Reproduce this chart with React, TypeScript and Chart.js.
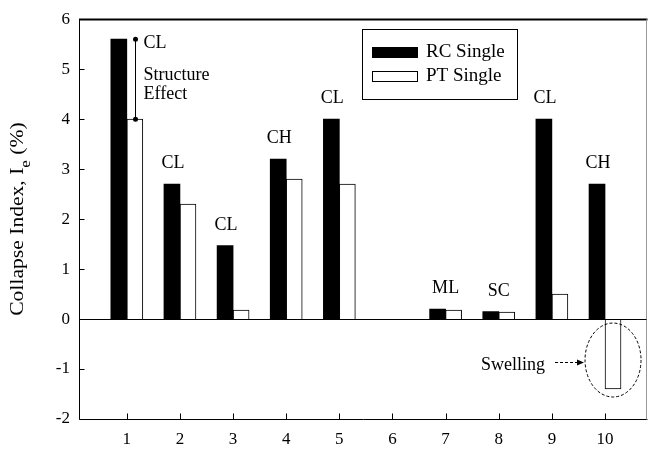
import React, { useEffect, useRef } from "react";
import { Chart, registerables } from "chart.js";

Chart.register(...registerables);

// Site numbers along the x axis
const SITES = [1, 2, 3, 4, 5, 6, 7, 8, 9, 10];
// Collapse index (%) for each site; null where no test was run
const RC_SINGLE: (number | null)[] = [5.6, 2.7, 1.47, 3.2, 4.0, null, 0.2, 0.15, 4.0, 2.7];
const PT_SINGLE: (number | null)[] = [4.0, 2.3, 0.18, 2.8, 2.7, null, 0.18, 0.14, 0.5, -1.4];
// Soil classification shown above each group
const SOIL_TYPES = ["CL", "CL", "CL", "CH", "CL", "", "ML", "SC", "CL", "CH"];
const SERIES_NAMES = ["RC Single", "PT Single"];
const Y_MIN = -2;
const Y_MAX = 6;

const FONT = '"Liberation Serif", "Times New Roman", serif';

const annotate = {
  id: "annotate",
  afterDatasetsDraw(chart: any) {
    const { ctx, chartArea: a, scales } = chart;
    const xs = scales.x;
    const ys = scales.y;
    const m0 = chart.getDatasetMeta(0);
    const m1 = chart.getDatasetMeta(1);
    const L = Math.round(a.left) + 0.5;
    const R = Math.round(a.right) - 0.5;
    const T = Math.round(a.top) + 0.5;
    const B = Math.round(a.bottom) + 0.5;

    ctx.save();
    ctx.strokeStyle = "#000";
    ctx.fillStyle = "#000";
    ctx.lineWidth = 1;

    // frame
    ctx.beginPath();
    ctx.moveTo(L, T);
    ctx.lineTo(L, B);
    ctx.lineTo(R + 1, B);
    ctx.stroke();
    ctx.lineWidth = 2;
    ctx.beginPath();
    ctx.moveTo(L - 0.5, T);
    ctx.lineTo(R + 1, T);
    ctx.stroke();
    ctx.lineWidth = 1;
    ctx.strokeStyle = "#999";
    ctx.beginPath();
    ctx.moveTo(R, T);
    ctx.lineTo(R, B);
    ctx.stroke();
    ctx.strokeStyle = "#000";

    // zero line
    const z = Math.round(ys.getPixelForValue(0)) + 0.5;
    ctx.beginPath();
    ctx.moveTo(L, z);
    ctx.lineTo(R, z);
    ctx.stroke();

    // inward tick marks
    ctx.beginPath();
    for (let v = Y_MIN; v <= Y_MAX; v++) {
      const py = Math.round(ys.getPixelForValue(v)) + 0.5;
      ctx.moveTo(L, py);
      ctx.lineTo(L + 5, py);
    }
    SITES.forEach((s) => {
      const px = Math.round(xs.getPixelForValue(s)) + 0.5;
      ctx.moveTo(px, B);
      ctx.lineTo(px, B - 6);
    });
    ctx.stroke();

    // soil type labels
    ctx.font = `18px ${FONT}`;
    ctx.textAlign = "center";
    ctx.textBaseline = "alphabetic";
    for (let i = 1; i < SITES.length; i++) {
      const label = SOIL_TYPES[i];
      const rc = RC_SINGLE[i];
      const pt = PT_SINGLE[i];
      if (!label || rc == null || pt == null) continue;
      const top = ys.getPixelForValue(Math.max(rc, pt, 0));
      let cx: number;
      if (Math.abs(rc - pt) < 0.1) cx = xs.getPixelForValue(SITES[i]);
      else cx = (rc >= pt ? m0.data[i].x : m1.data[i].x) + 1;
      ctx.fillText(label, cx, top - 16);
    }

    // structure effect marker at site 1
    const lx = Math.round(m1.data[0].x) + 0.5;
    const y1 = m0.data[0].y;
    const y2 = m1.data[0].y;
    ctx.beginPath();
    ctx.moveTo(lx, y1);
    ctx.lineTo(lx, y2);
    ctx.stroke();
    [y1, y2].forEach((py) => {
      ctx.beginPath();
      ctx.arc(lx, py, 2.5, 0, Math.PI * 2);
      ctx.fill();
    });
    ctx.textAlign = "left";
    ctx.fillText(SOIL_TYPES[0], lx + 8, y1 + 9);
    ctx.fillText("Structure", lx + 8, y1 + 41);
    ctx.fillText("Effect", lx + 8, y1 + 60);

    // swelling ellipse around the negative bar
    const sw = m1.data[9];
    const ecx = sw.x;
    const etop = ys.getPixelForValue(0) + 4;
    const ebot = sw.y + 8;
    const ecy = (etop + ebot) / 2;
    const ery = (ebot - etop) / 2;
    const erx = 28;
    ctx.setLineDash([3, 2]);
    ctx.beginPath();
    ctx.ellipse(ecx, ecy, erx, ery, 0, 0, Math.PI * 2);
    ctx.stroke();
    const ex = ecx - erx;
    const ay = Math.round(ecy + 2) + 0.5;
    ctx.beginPath();
    ctx.moveTo(ex - 30, ay);
    ctx.lineTo(ex - 6, ay);
    ctx.stroke();
    ctx.setLineDash([]);
    ctx.beginPath();
    ctx.moveTo(ex - 1, ay);
    ctx.lineTo(ex - 8, ay - 3);
    ctx.lineTo(ex - 8, ay + 3);
    ctx.closePath();
    ctx.fill();
    ctx.textAlign = "right";
    ctx.fillText("Swelling", ex - 40, ecy + 10);

    // y axis title with subscript
    ctx.save();
    ctx.translate(23, (a.top + a.bottom) / 2);
    ctx.rotate(-Math.PI / 2);
    ctx.scale(1.2, 1);
    const p1 = "Collapse Index, I";
    const sub = "e";
    const p2 = " (%)";
    ctx.font = `18px ${FONT}`;
    const w1 = ctx.measureText(p1).width;
    const w2 = ctx.measureText(p2).width;
    ctx.font = `14px ${FONT}`;
    const ws = ctx.measureText(sub).width;
    let sx = -(w1 + ws + w2) / 2;
    ctx.textAlign = "left";
    ctx.font = `18px ${FONT}`;
    ctx.fillText(p1, sx, 0);
    sx += w1;
    ctx.font = `14px ${FONT}`;
    ctx.fillText(sub, sx, 7);
    sx += ws;
    ctx.font = `18px ${FONT}`;
    ctx.fillText(p2, sx, 0);
    ctx.restore();

    // legend box
    const bx = 362.5;
    const by = 29.5;
    ctx.lineWidth = 1;
    ctx.strokeStyle = "#000";
    ctx.strokeRect(bx, by, 155, 70);
    ctx.font = `19px ${FONT}`;
    ctx.textAlign = "left";
    chart.data.datasets.forEach((ds: any, i: number) => {
      const sy = 47 + i * 24;
      ctx.fillStyle = ds.backgroundColor;
      ctx.fillRect(372, sy, 46, 11);
      ctx.strokeStyle = ds.borderColor;
      ctx.strokeRect(372.5, sy + 0.5, 45, 10);
      ctx.fillStyle = "#000";
      ctx.fillText(ds.label, 426, sy + 10);
    });

    ctx.restore();
  },
};

export default function App() {
  const ref = useRef<HTMLCanvasElement | null>(null);

  useEffect(() => {
    if (!ref.current) return;
    Chart.defaults.font.family = FONT;
    Chart.defaults.color = "#000";
    const chart = new Chart(ref.current, {
      type: "bar",
      data: {
        datasets: [
          {
            label: SERIES_NAMES[0],
            data: SITES.map((s, i) => ({ x: s, y: RC_SINGLE[i] })) as any,
            backgroundColor: "#000",
            borderColor: "#000",
            borderWidth: 0,
            barThickness: 16,
          },
          {
            label: SERIES_NAMES[1],
            data: SITES.map((s, i) => ({ x: s, y: PT_SINGLE[i] })) as any,
            backgroundColor: "#fff",
            borderColor: "#000",
            borderWidth: 1,
            barThickness: 16,
          },
        ],
      },
      options: {
        responsive: false,
        animation: false,
        layout: { padding: { top: 16, right: 2, left: 0, bottom: 0 } },
        plugins: { legend: { display: false }, tooltip: { enabled: false } },
        scales: {
          x: {
            type: "linear",
            min: 0.1,
            max: 10.79,
            offset: false,
            grid: { display: false, drawTicks: false },
            border: { display: false },
            ticks: { font: { size: 17 }, padding: 10, autoSkip: false, maxRotation: 0 },
            afterBuildTicks: (s: any) => {
              s.ticks = SITES.map((v) => ({ value: v }));
            },
            afterFit: (s: any) => {
              s.height = 30;
            },
          },
          y: {
            min: Y_MIN,
            max: Y_MAX,
            grid: { display: false, drawTicks: false },
            border: { display: false },
            ticks: { stepSize: 1, font: { size: 17 }, padding: 9 },
            afterFit: (s: any) => {
              s.width = 79;
            },
          },
        },
      } as any,
      plugins: [annotate],
    });
    return () => chart.destroy();
  }, []);

  return (
    <div style={{ position: "fixed", left: 0, top: 0, width: 649, height: 449, background: "#fff" }}>
      <canvas ref={ref} width={649} height={449} style={{ display: "block" }} />
    </div>
  );
}
